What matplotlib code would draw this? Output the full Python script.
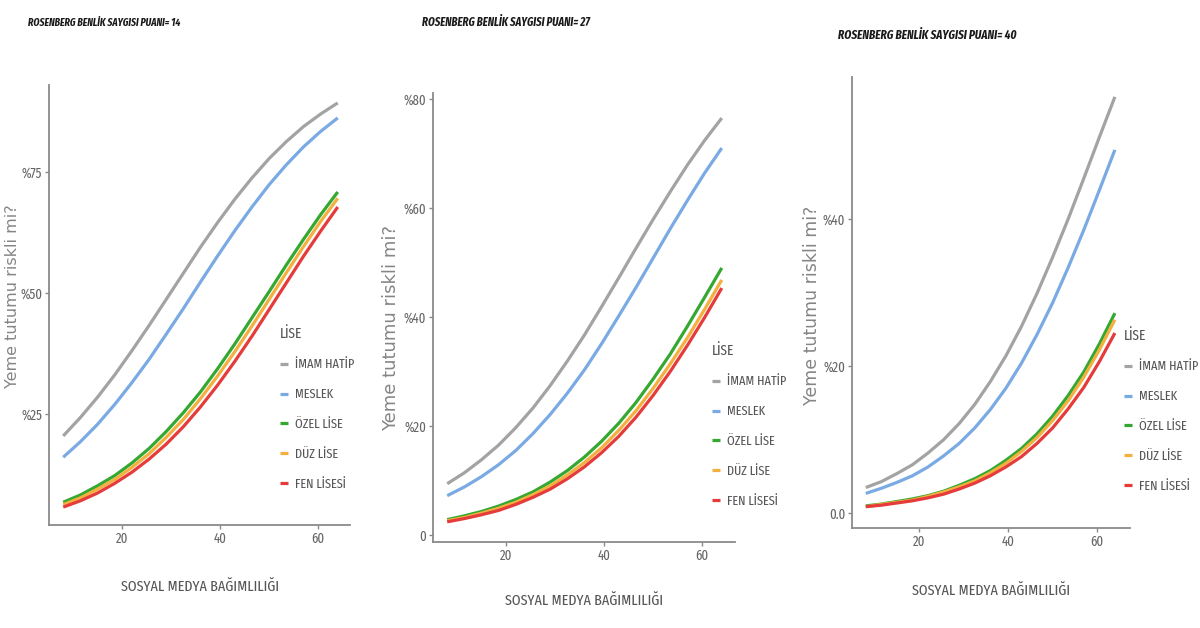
import matplotlib
matplotlib.use("Agg")
import matplotlib.pyplot as plt
from matplotlib import font_manager

names = {f.name for f in font_manager.fontManager.ttflist}
NARROW = "DejaVu Sans"
for cand in ["Fira Sans Extra Condensed", "Barlow Condensed", "Archivo Narrow",
             "Fira Sans Condensed", "Liberation Sans Narrow"]:
    if cand in names:
        NARROW = cand
        break

# ---------------- data ----------------
x_vals = [8, 11.5, 15, 18.5, 22, 25.5, 29, 32.5, 36, 39.5, 43, 46.5, 50, 53.5, 57, 60.5, 64]
series_names = ["İMAM HATİP", "MESLEK", "ÖZEL LİSE", "DÜZ LİSE", "FEN LİSESİ"]
series_colors = ["#a3a3a3", "#7aaae3", "#35a832", "#f4b03e", "#e53b3b"]

titles = ["ROSENBERG BENLİK SAYGISI PUANI= 14",
          "ROSENBERG BENLİK SAYGISI PUANI= 27",
          "ROSENBERG BENLİK SAYGISI PUANI= 40"]

# panel 1 (score 14)
imam1 = [20.5, 24.3, 28.5, 33.1, 38.1, 43.3, 48.7, 54.1, 59.5, 64.6, 69.4, 73.8, 77.8, 81.3, 84.4, 87.0, 89.3]
meslek1 = [16.1, 19.3, 22.9, 27.0, 31.5, 36.3, 41.5, 46.8, 52.3, 57.7, 62.9, 67.8, 72.4, 76.5, 80.2, 83.4, 86.2]
ozel1 = [6.8, 8.3, 10.2, 12.3, 14.9, 17.9, 21.4, 25.3, 29.6, 34.4, 39.5, 44.9, 50.3, 55.8, 61.1, 66.2, 70.9]
duz1 = [6.3, 7.7, 9.5, 11.5, 14.0, 16.8, 20.2, 23.9, 28.2, 32.9, 37.9, 43.2, 48.7, 54.2, 59.6, 64.8, 69.6]
fen1 = [5.8, 7.1, 8.7, 10.7, 13.0, 15.7, 18.8, 22.4, 26.5, 31.0, 35.9, 41.1, 46.6, 52.1, 57.6, 62.8, 67.8]

# panel 2 (score 27)
imam2 = [9.4, 11.4, 13.8, 16.5, 19.7, 23.3, 27.4, 31.9, 36.7, 41.9, 47.2, 52.6, 57.9, 63.0, 67.9, 72.4, 76.5]
meslek2 = [7.2, 8.8, 10.7, 12.9, 15.5, 18.6, 22.1, 26.0, 30.3, 35.1, 40.2, 45.4, 50.8, 56.2, 61.4, 66.4, 71.0]
ozel2 = [2.8, 3.5, 4.3, 5.3, 6.5, 7.9, 9.7, 11.8, 14.3, 17.2, 20.5, 24.3, 28.6, 33.2, 38.3, 43.6, 49.0]
duz2 = [2.6, 3.2, 4.0, 4.9, 6.0, 7.4, 9.0, 11.0, 13.3, 16.0, 19.2, 22.8, 26.9, 31.4, 36.2, 41.4, 46.8]
fen2 = [2.4, 3.0, 3.7, 4.5, 5.6, 6.9, 8.4, 10.3, 12.5, 15.1, 18.1, 21.6, 25.6, 30.0, 34.8, 39.9, 45.3]

# panel 3 (score 40)
imam3 = [3.5, 4.3, 5.4, 6.6, 8.2, 10.0, 12.2, 14.8, 17.9, 21.4, 25.4, 29.9, 34.8, 40.0, 45.5, 51.1, 56.6]
meslek3 = [2.7, 3.4, 4.2, 5.1, 6.3, 7.8, 9.5, 11.6, 14.1, 17.0, 20.4, 24.3, 28.6, 33.4, 38.5, 43.9, 49.4]
ozel3 = [1.0, 1.25, 1.6, 1.95, 2.4, 3.0, 3.8, 4.7, 5.8, 7.2, 8.8, 10.8, 13.2, 16.0, 19.2, 23.0, 27.2]
duz3 = [0.9, 1.2, 1.5, 1.8, 2.3, 2.9, 3.6, 4.4, 5.5, 6.8, 8.4, 10.3, 12.6, 15.3, 18.5, 22.2, 26.3]
fen3 = [0.9, 1.1, 1.4, 1.7, 2.1, 2.6, 3.3, 4.1, 5.1, 6.3, 7.7, 9.5, 11.6, 14.2, 17.1, 20.6, 24.5]

xticks = [20, 40, 60]
yticks1 = [25, 50, 75]
ylabels1 = ["%25", "%50", "%75"]
yticks2 = [0, 20, 40, 60, 80]
ylabels2 = ["0", "%20", "%40", "%60", "%80"]
yticks3 = [0, 20, 40]
ylabels3 = ["0.0", "%20", "%40"]

xlabel = "SOSYAL MEDYA BAĞIMLILIĞI"
ylabel = "Yeme tutumu riskli mi?"
legend_title = "LİSE"

panels = [
    dict(data=[imam1, meslek1, ozel1, duz1, fen1], yt=yticks1, yl=ylabels1, title=titles[0],
         rect_px=(49, 85, 350, 525), xlim=(5.1, 66.5), ylim=(2.1, 93.0),
         ylab=(-0.096, 0.52), ylab_fs=11.5, xlab=(0.502, -0.125), title_px=(28, 23), title_fs=7.6,
         leg_px=(280, 327), leg_sp=1.3),
    dict(data=[imam2, meslek2, ozel2, duz2, fen2], yt=yticks2, yl=ylabels2, title=titles[1],
         rect_px=(433, 93, 735, 542), xlim=(5.1, 66.7), ylim=(-1.3, 81.1),
         ylab=(-0.109, 0.477), ylab_fs=13, xlab=(0.5, -0.115), title_px=(422, 22), title_fs=8.4,
         leg_px=(712, 344), leg_sp=1.3),
    dict(data=[imam3, meslek3, ozel3, duz3, fen3], yt=yticks3, yl=ylabels3, title=titles[2],
         rect_px=(852, 77, 1130, 528), xlim=(4.9, 67.4), ylim=(-2.0, 59.3),
         ylab=(-0.112, 0.494), ylab_fs=12.5, xlab=(0.5, -0.124), title_px=(838, 35), title_fs=8.8,
         leg_px=(1124, 329), leg_sp=1.3),
]

W, H = 1200, 628
fig = plt.figure(figsize=(W / 100, H / 100), dpi=100)
fig.patch.set_facecolor("white")

spine_col = "#8a8a8a"
text_col = "#555555"

for p in panels:
    x0, y0, x1, y1 = p["rect_px"]
    ax = fig.add_axes([x0 / W, 1 - y1 / H, (x1 - x0) / W, (y1 - y0) / H])
    lines = []
    for vals, col, nm in zip(p["data"], series_colors, series_names):
        ln, = ax.plot(x_vals, vals, color=col, lw=2.3, solid_capstyle="butt", label=nm)
        lines.append(ln)
    ax.set_xlim(*p["xlim"])
    ax.set_ylim(*p["ylim"])
    for s in ["top", "right"]:
        ax.spines[s].set_visible(False)
    for s in ["left", "bottom"]:
        ax.spines[s].set_color(spine_col)
        ax.spines[s].set_linewidth(1.3)
    ax.set_xticks(xticks)
    ax.set_xticklabels([str(t) for t in xticks], fontfamily=NARROW, fontsize=10, color="#666666")
    ax.set_yticks(p["yt"])
    ax.set_yticklabels(p["yl"], fontfamily=NARROW, fontsize=10, color="#666666")
    ax.tick_params(length=3, width=1, color=spine_col, pad=2)
    ax.set_xlabel(xlabel, fontfamily=NARROW, fontsize=11, color=text_col)
    ax.xaxis.set_label_coords(*p["xlab"])
    ax.set_ylabel(ylabel, fontfamily="DejaVu Sans", fontsize=p["ylab_fs"], color="#858585")
    ax.yaxis.set_label_coords(*p["ylab"])
    tx, ty = p["title_px"]
    fig.text(tx / W, 1 - ty / H, p["title"], fontfamily=NARROW, fontweight="bold",
             fontstyle="italic", fontsize=p["title_fs"], color="#1a1a1a", va="center", ha="left")
    lx, ly = p["leg_px"]
    leg = ax.legend(handles=lines, title=legend_title, loc="upper left",
                    bbox_to_anchor=(lx / W, 1 - ly / H), bbox_transform=fig.transFigure,
                    frameon=False, handlelength=0.6, handletextpad=0.5, labelspacing=p["leg_sp"],
                    borderpad=0, borderaxespad=0,
                    prop=dict(family=NARROW, size=9.6), alignment="left")
    leg.get_title().set_fontfamily(NARROW)
    leg.get_title().set_fontsize(10.5)
    leg.get_title().set_color(text_col)
    for t in leg.get_texts():
        t.set_color(text_col)

fig.savefig("out.png", dpi=100, facecolor="white")
